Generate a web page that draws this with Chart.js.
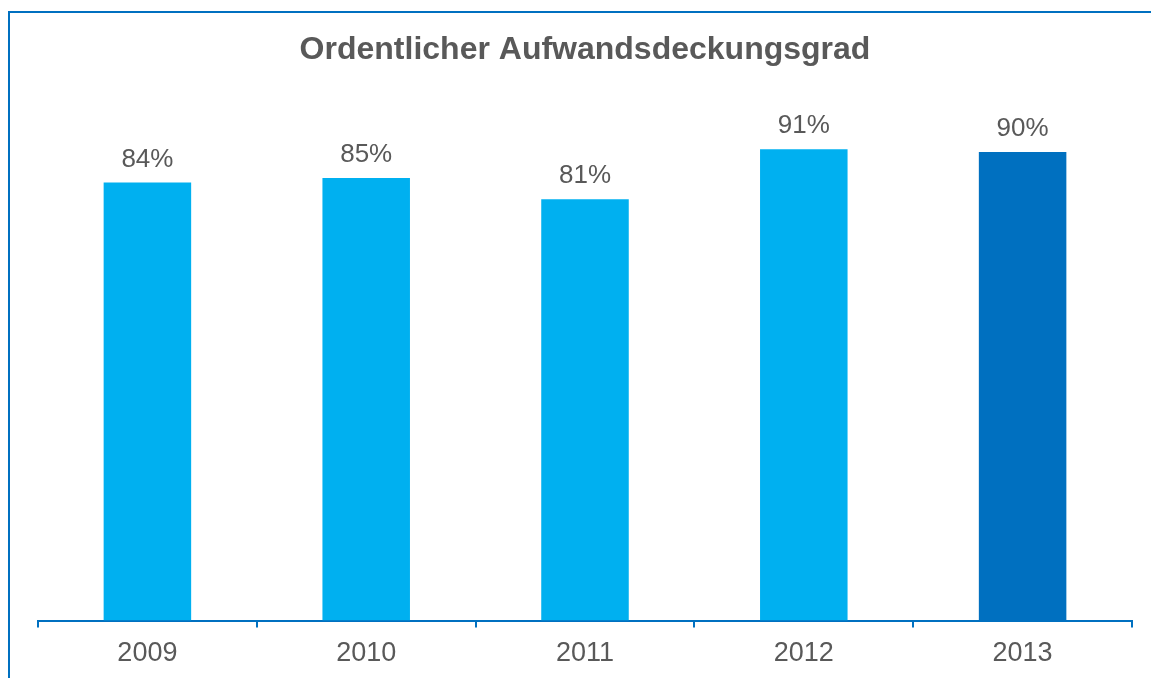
<!DOCTYPE html>
<html>
<head>
<meta charset="utf-8">
<script src="https://cdn.jsdelivr.net/npm/chart.js@4"></script>
<style>
  html, body { margin: 0; padding: 0; background: #fff; }
  #wrap { width: 1151px; height: 678px; }
</style>
</head>
<body>
<div id="wrap"><canvas id="chart" width="1151" height="678"></canvas></div>
<script>
// --- data ---
const years = ['2009', '2010', '2011', '2012', '2013'];
const coverage = [84.2, 85.1, 81.0, 90.6, 90.1];
const barColors = ['#00B0F0', '#00B0F0', '#00B0F0', '#00B0F0', '#0070C0'];

const textGrey = '#595959';
const frameBlue = '#0070C0';

// frame on the left and top edge
const framePlugin = {
    id: 'frame',
    beforeDraw(chart) {
        const ctx = chart.ctx;
        ctx.save();
        ctx.fillStyle = '#fff';
        ctx.fillRect(0, 0, chart.width, chart.height);
        ctx.strokeStyle = frameBlue;
        ctx.lineWidth = 2;
        ctx.beginPath();
        ctx.moveTo(9, chart.height);
        ctx.lineTo(9, 12);
        ctx.lineTo(chart.width, 12);
        ctx.stroke();
        ctx.restore();
    }
};

// value labels above bars
const valueLabels = {
    id: 'valueLabels',
    afterDatasetsDraw(chart) {
        const ctx = chart.ctx;
        const meta = chart.getDatasetMeta(0);
        ctx.save();
        ctx.font = '26px "Liberation Sans", Arial, sans-serif';
        ctx.fillStyle = textGrey;
        ctx.textAlign = 'center';
        ctx.textBaseline = 'alphabetic';
        meta.data.forEach((bar, i) => {
            ctx.fillText(Math.round(coverage[i]) + '%', bar.x, bar.y - 16);
        });
        ctx.restore();
    }
};

new Chart(document.getElementById('chart'), {
    type: 'bar',
    data: {
        labels: years,
        datasets: [{
            data: coverage,
            backgroundColor: barColors,
            borderWidth: 0,
            categoryPercentage: 1,
            barPercentage: 0.4
        }]
    },
    options: {
        responsive: false,
        animation: false,
        layout: { padding: { left: 38, right: 19, top: 0, bottom: -2 } },
        plugins: {
            legend: { display: false },
            tooltip: { enabled: false },
            title: {
                display: true,
                text: 'Ordentlicher Aufwandsdeckungsgrad',
                color: textGrey,
                font: { family: '"Liberation Sans", Arial, sans-serif', size: 32, weight: 'bold', lineHeight: 1.2 },
                padding: { top: 31, bottom: 31 }
            }
        },
        scales: {
            x: {
                border: { display: true, color: frameBlue, width: 2 },
                grid: {
                    offset: true,
                    drawOnChartArea: false,
                    drawTicks: true,
                    tickLength: 7,
                    color: frameBlue,
                    lineWidth: 2
                },
                ticks: {
                    color: textGrey,
                    padding: 10,
                    font: { family: '"Liberation Sans", Arial, sans-serif', size: 27 }
                }
            },
            y: {
                display: false,
                min: 0,
                max: 100
            }
        }
    },
    plugins: [framePlugin, valueLabels]
});
</script>
</body>
</html>
